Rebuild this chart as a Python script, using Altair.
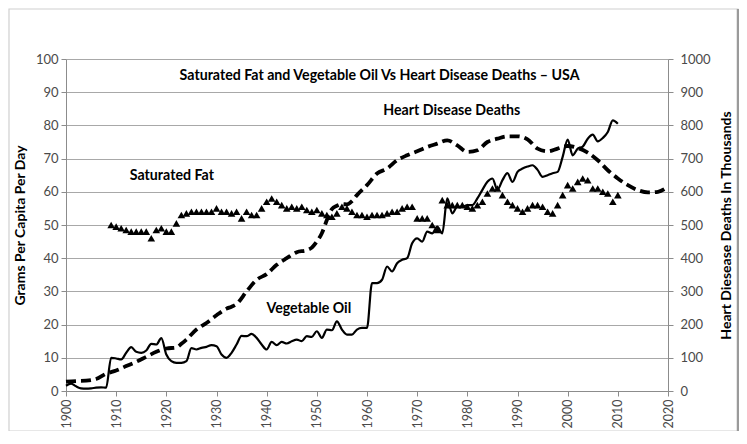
import altair as alt
import pandas as pd

# ---- data ----
veg_years = list(range(1900, 2011))
veg_values = [
    1.6, 2.2, 1.4, 0.8, 0.7, 0.8, 1.0, 1.1, 1.0, 10.0,      # 1900-1909
    9.8, 9.5, 11.5, 13.2, 11.8, 11.5, 12.2, 14.2, 14.0, 15.9,  # 1910-1919
    11.0, 9.0, 8.5, 8.5, 9.0, 12.9, 12.5, 13.0, 13.3, 13.8,    # 1920-1929
    13.5, 11.0, 10.0, 11.5, 14.0, 16.6, 16.5, 17.2, 16.0, 14.0,  # 1930-1939
    12.5, 14.8, 13.8, 14.8, 14.3, 15.0, 15.5, 15.0, 16.5, 16.3,  # 1940-1949
    18.0, 16.0, 18.5, 18.3, 21.0, 18.5, 17.0, 17.0, 18.5, 19.0,  # 1950-1959
    19.0, 32.5, 32.5, 33.5, 37.5, 36.0, 38.5, 39.5, 40.0, 44.5,  # 1960-1969
    46.0, 45.0, 48.0, 47.5, 49.5, 47.5, 58.0, 53.5, 55.5, 55.5,  # 1970-1979
    56.0, 56.0, 58.0, 60.6, 63.0, 64.0, 60.6, 63.5, 65.6, 63.0,  # 1980-1989
    66.0, 67.0, 67.6, 68.0, 66.6, 64.5, 65.0, 65.6, 66.0, 70.5,  # 1990-1999
    75.7, 71.0, 73.0, 73.6, 76.0, 77.2, 75.2, 76.2, 78.0, 81.5,  # 2000-2009
    80.5,                                                        # 2010
]

fat_years = list(range(1909, 2011))
fat_values = [
    50.0,                                                        # 1909
    49.5, 49.0, 48.5, 48.0, 48.0, 48.0, 48.0, 46.0, 48.5, 49.0,  # 1910-1919
    48.0, 48.0, 50.5, 53.0, 53.5, 54.0, 54.0, 54.0, 54.0, 54.0,  # 1920-1929
    55.0, 54.0, 54.0, 53.5, 54.0, 52.0, 54.0, 53.0, 53.0, 55.0,  # 1930-1939
    57.0, 58.0, 57.0, 56.0, 55.0, 55.5, 55.0, 55.5, 54.5, 54.0,  # 1940-1949
    54.5, 53.5, 53.0, 52.5, 53.5, 55.5, 55.0, 54.0, 53.0, 53.0,  # 1950-1959
    52.5, 53.0, 53.0, 53.0, 53.5, 54.0, 54.0, 55.0, 55.5, 55.5,  # 1960-1969
    52.0, 52.0, 52.0, 50.0, 48.5, 57.5, 56.0, 56.0, 56.0, 56.0,  # 1970-1979
    55.5, 55.0, 56.0, 57.0, 59.5, 61.0, 61.0, 59.0, 57.0, 56.0,  # 1980-1989
    55.0, 54.0, 55.0, 56.0, 56.0, 55.5, 54.0, 53.5, 56.0, 59.0,  # 1990-1999
    62.0, 61.0, 63.0, 64.0, 63.5, 61.0, 61.0, 60.0, 59.5, 57.0,  # 2000-2009
    59.0,                                                        # 2010
]

heart_years = [
    1900, 1902, 1904, 1906, 1908, 1910, 1912, 1914, 1916, 1918,
    1920, 1922, 1923, 1924, 1926, 1928, 1930, 1932, 1933, 1934,
    1936, 1938, 1940, 1942, 1944, 1946, 1948, 1949, 1950, 1951,
    1952, 1953, 1954, 1955, 1956, 1957, 1958, 1960, 1962, 1964,
    1966, 1968, 1970, 1972, 1974, 1976, 1978, 1980, 1982, 1984,
    1986, 1988, 1990, 1992, 1994, 1996, 1998, 2000, 2002, 2004,
    2006, 2008, 2010, 2012, 2014, 2016, 2018, 2020,
]
heart_values = [
    28, 30, 31, 36, 52, 62, 75, 88, 103, 118,
    128, 131, 142, 155, 185, 205, 228, 248, 254, 262,
    300, 335, 352, 380, 400, 418, 424, 432, 450, 475,
    515, 548, 558, 563, 562, 572, 590, 620, 655, 670,
    695, 710, 722, 735, 745, 755, 740, 720, 725, 750,
    760, 767, 767, 758, 730, 722, 730, 738, 732, 718,
    695, 665, 640, 620, 605, 598, 600, 615,
]

note_texts = [
    "Saturated Fat and Vegetable Oil Vs Heart Disease Deaths \u2013 USA",
    "Heart Disease Deaths",
    "Saturated Fat",
    "Vegetable  Oil",
]
note_years = [1962.5, 1976.9, 1921.1, 1948.4]
note_values = [95.0, 84.4, 64.8, 24.7]

x_ticks = list(range(1900, 2021, 10))
left_ticks = list(range(0, 101, 10))
right_ticks = list(range(0, 1001, 100))

veg_df = pd.DataFrame({"year": veg_years, "value": veg_values})
fat_df = pd.DataFrame({"year": fat_years, "value": fat_values})
heart_df = pd.DataFrame({"year": heart_years, "deaths": heart_values})
note_df = pd.DataFrame({"year": note_years, "value": note_values, "text": note_texts})

FONT = "Lato"

x_enc = alt.X(
    "year:Q",
    scale=alt.Scale(domain=[1900, 2020], nice=False, zero=False),
    axis=alt.Axis(
        values=x_ticks, format="d", labelAngle=270, title=None, grid=False,
        labelFontSize=12.5, labelPadding=3, labelBaseline="middle", labelAlign="right",
    ),
)
y_left = alt.Y(
    "value:Q",
    scale=alt.Scale(domain=[0, 100], nice=False),
    axis=alt.Axis(
        orient="left", values=left_ticks, title="Grams Per Capita Per Day",
        grid=True, titlePadding=8, labelPadding=3, format="d",
    ),
)
y_right = alt.Y(
    "deaths:Q",
    scale=alt.Scale(domain=[0, 1000], nice=False),
    axis=alt.Axis(
        orient="right", values=right_ticks, title="Heart Diesease Deaths In Thousands",
        grid=False, titleAngle=270, titlePadding=23, labelPadding=7, format="d",
    ),
)

veg = alt.Chart(veg_df).mark_line(
    color="black", strokeWidth=2.2, interpolate="monotone"
).encode(x=x_enc, y=y_left)

fat = alt.Chart(fat_df).mark_point(
    shape="triangle-up", filled=True, color="black", size=58, opacity=1
).encode(x=x_enc, y=y_left)

notes = alt.Chart(note_df).mark_text(
    font=FONT, fontWeight="bold", fontSize=14.2, color="black",
    align="center", baseline="middle",
).encode(x=x_enc, y=y_left, text="text:N")

heart = alt.Chart(heart_df).mark_line(
    color="black", strokeWidth=3.8, strokeDash=[10, 5], interpolate="monotone"
).encode(x=x_enc, y=y_right)

frame_df = pd.DataFrame({"k": [0]})
frame = alt.Chart(frame_df).mark_rect(
    fill=None, stroke="#d0d0d0", strokeWidth=1.2
).encode(
    x=alt.value(-57), x2=alt.value(672), y=alt.value(-50), y2=alt.value(372)
)
frame_side = alt.Chart(frame_df).mark_rule(
    color="#9a9a9a", strokeWidth=2.5
).encode(
    x=alt.value(672), y=alt.value(-50), y2=alt.value(372)
)

left = alt.layer(veg, fat, notes)

chart = alt.layer(left, heart, frame, frame_side).resolve_scale(y="independent").properties(
    width=602,
    height=332,
    autosize=alt.AutoSizeParams(type="none"),
    padding={"left": 58, "top": 51, "right": 71, "bottom": 40},
    background="white",
).configure_view(stroke=None).configure_axis(
    labelFont=FONT, labelFontSize=13, labelColor="#4a4a4a",
    titleFont=FONT, titleFontSize=14, titleFontWeight="bold", titleColor="black",
    domainColor="#8c8c8c", tickColor="#8c8c8c", gridColor="#a8a8a8",
    tickSize=5, domainWidth=1, gridWidth=1,
)

chart.save("out.html", embed_options={"renderer": "svg", "actions": False})
